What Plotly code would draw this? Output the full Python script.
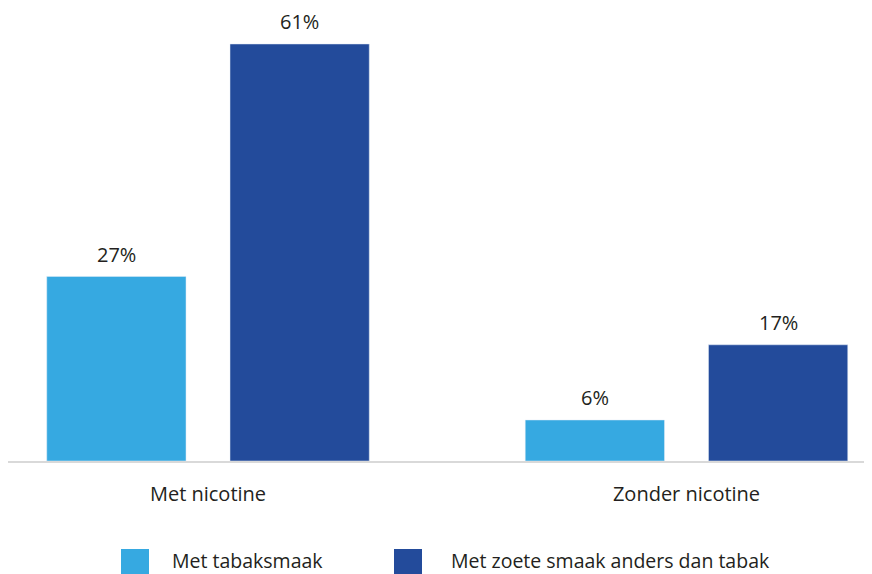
import plotly.graph_objects as go

categories = ["Met nicotine", "Zonder nicotine"]
series_names = ["Met tabaksmaak", "Met zoete smaak anders dan tabak"]
tabak_values = [27, 6]
zoet_values = [61, 17]
colors = ["#36A9E1", "#234B9B"]

FONT = "Open Sans"
TXT = "#231F20"
FS = 20

fig = go.Figure()
for i, (name, vals, col) in enumerate(zip(series_names, [tabak_values, zoet_values], colors)):
    fig.add_trace(go.Bar(
        x=categories, y=vals, name=name, marker_color=col,
        showlegend=False, hoverinfo="x+y",
    ))
    shift = -91.5 if i == 0 else 91.5
    for c, v in zip(categories, vals):
        fig.add_annotation(x=c, y=v, text=f"{v}%", showarrow=False,
                           xshift=shift, yshift=22, yanchor="middle",
                           font=dict(family=FONT, size=FS, color=TXT))

# manual legend (large square swatches)
leg_sq_x = [121, 394]
leg_txt_x = [170, 449]
W, H = 864, 566
for name, col, sx, tx in zip(series_names, colors, leg_sq_x, leg_txt_x):
    fig.add_shape(type="rect", xref="paper", yref="paper",
                  x0=(sx - 8) / 863, x1=(sx + 28 - 8) / 863,
                  y0=(461 - 575) / 441, y1=(461 - 549) / 441,
                  fillcolor=col, line_width=0)
    fig.add_annotation(xref="paper", yref="paper", x=(tx - 8) / 863, y=(461 - 560.5) / 441,
                       text=name, showarrow=False, xanchor="left", yanchor="middle",
                       font=dict(family=FONT, size=19.5, color=TXT))

fig.update_layout(
    width=W, height=H,
    margin=dict(l=0, r=1, t=12, b=113),
    paper_bgcolor="white", plot_bgcolor="white",
    barmode="group", bargap=0.234, bargroupgap=0.24,
    font=dict(family=FONT, size=FS, color=TXT),
    xaxis=dict(range=[-0.418, 1.3856], showline=True, linecolor="#D9D9D9", linewidth=2,
               ticks="", showgrid=False, ticklabelstandoff=14,
               tickfont=dict(family=FONT, size=FS, color=TXT)),
    yaxis=dict(range=[0, 64.51], visible=False, showgrid=False, zeroline=False),
)

fig.write_html("out.html")
